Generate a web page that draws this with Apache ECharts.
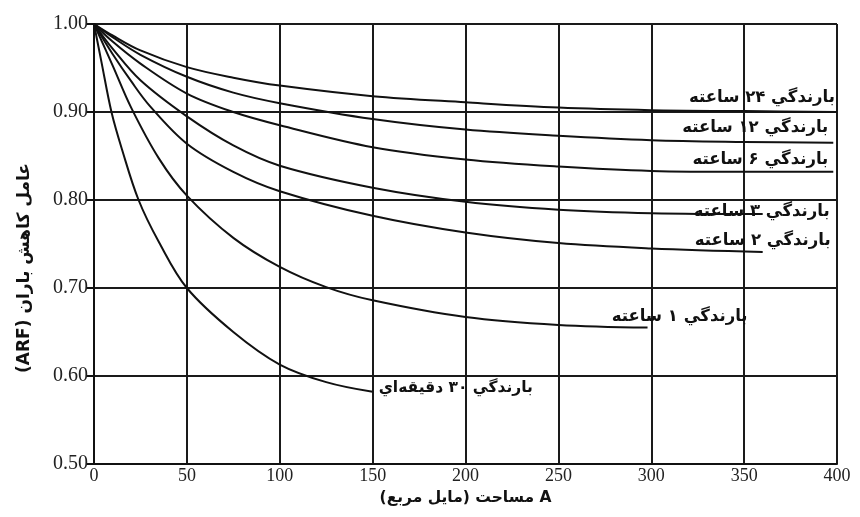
<!DOCTYPE html>
<html>
<head>
<meta charset="utf-8">
<script src="https://cdn.jsdelivr.net/npm/echarts@6/dist/echarts.min.js"></script>
<style>
html,body{margin:0;padding:0;background:#fff;}
#chart{width:860px;height:517px;}
</style>
</head>
<body>
<div id="chart" dir="rtl"></div>
<script>
// Curve names (labels)
const curveNames = [
  'بارندگي ۲۴ ساعته',
  'بارندگي ۱۲ ساعته',
  'بارندگي ۶ ساعته',
  'بارندگي ۳ ساعته',
  'بارندگي ۲ ساعته',
  'بارندگي ۱ ساعته',
  'بارندگي ۳۰ دقيقه‌اي'
];
// Area (sq. mi) and ARF values
const x24 = [0, 10, 25, 50, 75, 100, 150, 200, 250, 300, 350, 400];
const y24 = [1.0, 0.987, 0.970, 0.951, 0.939, 0.930, 0.918, 0.911, 0.905, 0.902, 0.901, 0.900];
const x12 = [0, 10, 25, 50, 75, 100, 150, 200, 250, 300, 350, 398];
const y12 = [1.0, 0.985, 0.965, 0.940, 0.922, 0.910, 0.892, 0.880, 0.873, 0.868, 0.866, 0.865];
const x6 = [0, 10, 25, 50, 75, 100, 150, 200, 250, 300, 350, 398];
const y6 = [1.0, 0.980, 0.955, 0.921, 0.900, 0.885, 0.860, 0.846, 0.838, 0.833, 0.832, 0.832];
const x3 = [0, 10, 25, 50, 75, 100, 150, 200, 250, 300, 360];
const y3 = [1.0, 0.972, 0.936, 0.895, 0.862, 0.839, 0.814, 0.798, 0.789, 0.785, 0.784];
const x2 = [0, 10, 20, 30, 50, 75, 100, 150, 200, 250, 300, 360];
const y2 = [1.0, 0.966, 0.935, 0.907, 0.864, 0.832, 0.810, 0.782, 0.763, 0.751, 0.745, 0.741];
const x1 = [0, 10, 20, 35, 50, 75, 100, 125, 150, 200, 250, 298];
const y1 = [1.0, 0.953, 0.905, 0.847, 0.805, 0.757, 0.724, 0.701, 0.686, 0.667, 0.658, 0.655];
const x30 = [0, 4, 9.4, 15, 24, 35, 50, 75, 100, 125, 150];
const y30 = [1.0, 0.957, 0.900, 0.858, 0.800, 0.752, 0.700, 0.650, 0.613, 0.593, 0.582];
// Axes
const xMin = 0, xMax = 400, xStep = 50;
const yMin = 0.5, yMax = 1.0, yStep = 0.1;
const xName = 'A مساحت (مايل مربع)';
const yName = 'عامل كاهش باران (ARF)';

const xs = [x24, x12, x6, x3, x2, x1, x30];
const ys = [y24, y12, y6, y3, y2, y1, y30];
// label placement relative to curve end (style only)
const labelStyle = [
  {align: 'right', offset: [-2, -14]},
  {align: 'right', offset: [-5, -15]},
  {align: 'right', offset: [-5, -12]},
  {align: 'right', offset: [67, -2]},
  {align: 'right', offset: [68, -11]},
  {align: 'right', offset: [100, -11]},
  {align: 'left', offset: [6, -4]}
];

const arFont = 'DejaVu Sans';
const series = curveNames.map((nm, i) => ({
  name: nm,
  type: 'line',
  data: xs[i].map((x, j) => [x, ys[i][j]]),
  smooth: 0.35,
  showSymbol: false,
  silent: true,
  lineStyle: {color: '#111', width: 2},
  endLabel: {
    show: true,
    formatter: nm,
    position: 'right',
    distance: 0,
    align: labelStyle[i].align,
    verticalAlign: 'middle',
    offset: labelStyle[i].offset,
    fontFamily: arFont,
    fontWeight: 'bold',
    fontSize: i === 6 ? 15.5 : 16.5,
    color: '#111'
  }
}));

const chart = echarts.init(document.getElementById('chart'), null, {renderer: 'canvas'});
chart.setOption({
  animation: false,
  backgroundColor: '#fff',
  grid: {left: 94, right: 23, top: 24, bottom: 53, containLabel: false},
  xAxis: {
    type: 'value', min: xMin, max: xMax, interval: xStep,
    name: xName, nameLocation: 'middle', nameGap: 24,
    nameTextStyle: {fontFamily: arFont, fontWeight: 'bold', fontSize: 15.5, color: '#111'},
    axisLine: {show: true, lineStyle: {color: '#111', width: 2}},
    axisTick: {show: false},
    axisLabel: {fontFamily: 'Liberation Serif', fontSize: 18, color: '#222', margin: 3},
    splitLine: {show: true, lineStyle: {color: '#1a1a1a', width: 2}}
  },
  yAxis: {
    type: 'value', min: yMin, max: yMax, interval: yStep,
    name: yName, nameLocation: 'middle', nameGap: 61, nameRotate: 90,
    nameTextStyle: {fontFamily: arFont, fontWeight: 'bold', fontSize: 17, color: '#111',
      padding: [0, 48, 0, 0]},
    axisLine: {show: true, lineStyle: {color: '#111', width: 2}},
    axisTick: {show: true, length: 8, lineStyle: {color: '#111', width: 2}},
    axisLabel: {fontFamily: 'Liberation Serif', fontSize: 20, color: '#222', margin: 6,
      formatter: v => v.toFixed(2)},
    splitLine: {show: true, lineStyle: {color: '#1a1a1a', width: 2}}
  },
  series: series
});
</script>
</body>
</html>
